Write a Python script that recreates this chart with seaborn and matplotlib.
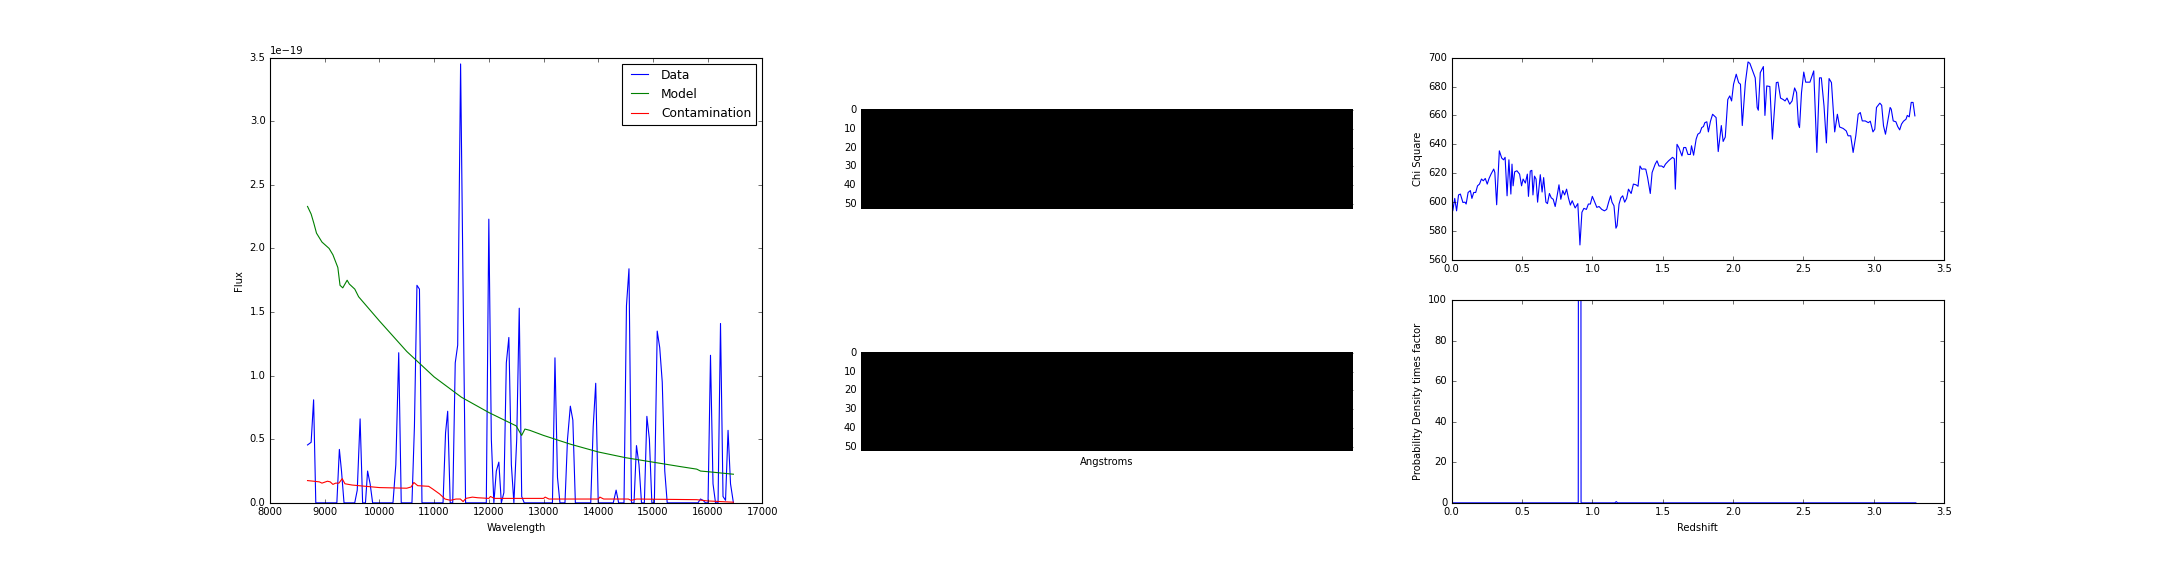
import numpy as np
import seaborn as sns
import matplotlib
matplotlib.use("Agg")
import matplotlib.pyplot as plt

# spectrum panel (flux in units of 1e-19)
wave_data = [8686, 8752, 8797, 8837, 9222, 9268, 9307, 9353, 9549, 9595, 9647, 9693,
             9745, 9784, 9830, 9876, 10248, 10300, 10353, 10399, 10595, 10640, 10686,
             10732, 10778, 11163, 11209, 11248, 11294, 11340, 11386, 11431, 11484, 11529,
             11575, 11954, 12000, 12046, 12092, 12137, 12183, 12229, 12275, 12320, 12366,
             12412, 12458, 12510, 12556, 12601, 12647, 13163, 13209, 13255, 13300, 13392,
             13438, 13490, 13536, 13582, 13863, 13908, 13954, 14000, 14275, 14327, 14373,
             14471, 14516, 14562, 14608, 14654, 14699, 14745, 14791, 14843, 14889, 14935,
             14980, 15026, 15078, 15124, 15170, 15216, 15261, 15823, 15869, 15915, 15961,
             16007, 16052, 16098, 16144, 16190, 16235, 16281, 16327, 16373, 16418, 16471]
flux_data = [0.455, 0.476, 0.81, 0, 0, 0.42, 0.25, 0, 0, 0.1, 0.66, 0,
             0, 0.25, 0.15, 0, 0, 0.3, 1.18, 0, 0, 0.6, 1.71,
             1.68, 0, 0, 0.55, 0.72, 0, 0, 1.1, 1.24, 3.45, 1.7,
             0, 0, 2.23, 0.5, 0, 0.25, 0.32, 0, 0.08, 1.1, 1.3,
             0.3, 0, 0.5, 1.53, 0.05, 0, 0, 1.14, 0.2, 0, 0,
             0.5, 0.76, 0.65, 0, 0, 0.6, 0.94, 0, 0, 0.1, 0,
             0, 1.55, 1.84, 0, 0, 0.45, 0.3, 0, 0, 0.68, 0.5,
             0, 0, 1.35, 1.22, 0.95, 0.25, 0, 0, 0.03, 0.02, 0,
             0, 1.16, 0.15, 0, 0, 1.41, 0.05, 0.02, 0.57, 0.15, 0]

wave_model = [8686, 8752, 8800, 8850, 8950, 9080, 9150, 9240, 9280, 9330, 9410, 9450,
              9550, 9620, 9700, 9800, 9900, 10000, 10500, 11000, 11500, 12000, 12500,
              12600, 12660, 12750, 13000, 13500, 14000, 14500, 15000, 15500, 15800,
              15870, 16000, 16471]
flux_model = [2.33, 2.27, 2.20, 2.12, 2.05, 2.00, 1.95, 1.85, 1.71, 1.69, 1.75, 1.72,
              1.68, 1.62, 1.58, 1.53, 1.48, 1.43, 1.19, 0.99, 0.83, 0.71, 0.605,
              0.53, 0.58, 0.57, 0.53, 0.46, 0.40, 0.355, 0.32, 0.285, 0.265,
              0.25, 0.245, 0.225]

wave_cont = [8686, 8800, 8900, 8950, 9050, 9100, 9150, 9200, 9260, 9320, 9370, 9500,
             10000, 10500, 10580, 10630, 10700, 10900, 10970, 11100, 11200, 11300, 11400,
             11480, 11530, 11580, 11700, 11800, 12000, 12030, 12100, 13000, 13030, 13100,
             14000, 14030, 14100, 14550, 14600, 14700, 15800, 16000, 16471]
flux_cont = [0.175, 0.17, 0.165, 0.155, 0.17, 0.165, 0.145, 0.155, 0.155, 0.19, 0.15, 0.14,
             0.12, 0.115, 0.125, 0.16, 0.135, 0.13, 0.11, 0.07, 0.03, 0.02, 0.03,
             0.03, 0.01, 0.035, 0.045, 0.04, 0.035, 0.05, 0.035, 0.035, 0.045, 0.03,
             0.03, 0.045, 0.03, 0.03, 0.02, 0.03, 0.025, 0.015, 0.005]

# chi square vs redshift
z_chi = [0.0, 0.008, 0.022, 0.035, 0.049, 0.062, 0.08, 0.095, 0.103, 0.117, 0.133, 0.144,
         0.157, 0.171, 0.184, 0.198, 0.212, 0.225, 0.239, 0.253, 0.266, 0.28, 0.299, 0.307,
         0.32, 0.339, 0.356, 0.369, 0.38, 0.394, 0.407, 0.421, 0.429, 0.437, 0.448, 0.464,
         0.483, 0.497, 0.508, 0.524, 0.538, 0.546, 0.559, 0.57, 0.578, 0.589, 0.6, 0.611,
         0.63, 0.643, 0.654, 0.67, 0.681, 0.695, 0.708, 0.722, 0.736, 0.749, 0.763, 0.776,
         0.79, 0.803, 0.817, 0.83, 0.844, 0.857, 0.878, 0.897, 0.912, 0.926, 0.94, 0.958,
         0.972, 0.986, 1.0, 1.013, 1.032, 1.048, 1.067, 1.086, 1.102, 1.116, 1.13, 1.14,
         1.154, 1.168, 1.176, 1.19, 1.203, 1.216, 1.23, 1.244, 1.257, 1.276, 1.292, 1.311,
         1.325, 1.339, 1.352, 1.366, 1.38, 1.393, 1.412, 1.425, 1.447, 1.46, 1.474, 1.493,
         1.507, 1.52, 1.542, 1.556, 1.57, 1.583, 1.59, 1.602, 1.615, 1.637, 1.65, 1.664,
         1.68, 1.697, 1.705, 1.72, 1.738, 1.75, 1.765, 1.778, 1.79, 1.8, 1.814, 1.825,
         1.84, 1.855, 1.88, 1.895, 1.917, 1.93, 1.945, 1.963, 1.977, 1.99, 2.004, 2.023,
         2.04, 2.053, 2.066, 2.088, 2.107, 2.12, 2.14, 2.158, 2.172, 2.18, 2.194, 2.216,
         2.227, 2.24, 2.262, 2.28, 2.308, 2.32, 2.338, 2.357, 2.37, 2.384, 2.403, 2.42,
         2.438, 2.452, 2.465, 2.473, 2.487, 2.503, 2.517, 2.547, 2.574, 2.596, 2.615, 2.628,
         2.647, 2.664, 2.683, 2.7, 2.723, 2.742, 2.758, 2.783, 2.805, 2.818, 2.837, 2.854,
         2.873, 2.89, 2.905, 2.919, 2.94, 2.962, 2.976, 2.995, 3.008, 3.02, 3.044, 3.057,
         3.07, 3.084, 3.098, 3.117, 3.125, 3.139, 3.158, 3.171, 3.185, 3.198, 3.212, 3.23,
         3.239, 3.253, 3.267, 3.28, 3.293]
chi_sq = [598, 594, 602.6, 594, 605, 605.6, 599.8, 600, 598.7, 606.7, 608, 602.6,
          606.7, 606.7, 611.3, 612.5, 616, 614.8, 616.4, 612.5, 616.4, 619.4, 622.9, 620.5,
          598.2, 635.5, 630.5, 629.3, 631, 604.4, 629.3, 605.6, 626.3, 611.3, 621, 621.7,
          619.4, 611.3, 616, 613.2, 619.4, 604, 621.5, 622, 605, 618, 616, 600,
          619, 607, 617, 600, 599, 606, 603, 602, 597, 604, 612, 602,
          608, 605, 609, 603, 598, 601, 596, 599, 570.4, 593, 595.7, 595,
          598.7, 598.7, 604, 601, 596.4, 597, 595, 594, 595, 600, 604.4, 600,
          597.5, 582, 583.7, 598.7, 603, 604.4, 600, 602.6, 609, 606, 612.5, 612,
          611, 625, 622.8, 623, 622.8, 617, 606, 620.5, 626.3, 628.6, 625, 625,
          624, 626.3, 628.6, 629.8, 631, 630, 609, 640, 637.8, 632, 637.8, 637.8,
          633, 633, 639, 632.5, 643.6, 647, 648, 651.6, 652.3, 655, 655.6, 648.6,
          656, 660.8, 658.5, 635, 653, 642, 645, 671, 673.5, 670, 681.6, 688.5,
          682.7, 681.6, 653, 682.7, 697, 696, 690.8, 686, 665.5, 663.6, 689.6, 693.8,
          660, 680.4, 680, 643.6, 682.7, 683, 672, 671, 670, 672, 667.8, 670,
          679, 675.8, 654, 651.6, 675.8, 690, 683, 683, 690.8, 634.4, 686, 686,
          666.6, 641, 685.5, 682.7, 648.6, 660.8, 652, 651, 649.3, 645.9, 645.9, 634.4,
          645.9, 660.8, 662, 656.2, 656.2, 655, 656, 648.6, 650.5, 665.5, 668.5, 667,
          652.8, 647, 655, 665.5, 664.3, 656.2, 655.6, 652.3, 650, 654, 656, 657.4,
          660, 659, 669, 669, 659.7]

# probability density
z_prob = [0.0, 0.90, 0.91, 0.92, 1.16, 1.17, 1.18, 3.30]
prob = [0, 0, 1200, 0, 0, 0.6, 0, 0]

# 2D spectra (empty / black)
img_rows, img_cols = 53, 262

plt.style.use("classic")
plt.rcParams["font.size"] = 9
fig = plt.figure(figsize=(27, 7.2), dpi=80, facecolor="white")
gs = fig.add_gridspec(2, 3, left=0.125, right=0.9, bottom=0.127, top=0.9,
                      wspace=0.2, hspace=0.2)

# spectrum
ax1 = fig.add_subplot(gs[:, 0])
sns.lineplot(x=wave_data, y=np.array(flux_data) * 1e-19, color="b", label="Data",
             estimator=None, ax=ax1)
sns.lineplot(x=wave_model, y=np.array(flux_model) * 1e-19, color="g", label="Model",
             estimator=None, ax=ax1)
sns.lineplot(x=wave_cont, y=np.array(flux_cont) * 1e-19, color="r", label="Contamination",
             estimator=None, ax=ax1)
ax1.set_xlim(8000, 17000)
ax1.set_ylim(0, 3.5e-19)
ax1.set_xlabel("Wavelength")
ax1.set_ylabel("Flux")
ax1.legend(loc="upper right", fontsize=11, handlelength=2.0)

# 2D images
blank = np.zeros((img_rows, img_cols))
for i in range(2):
    axi = fig.add_subplot(gs[i, 1])
    sns.heatmap(blank, cmap="gray", vmin=0, vmax=1, cbar=False, square=True,
                xticklabels=False, ax=axi)
    axi.set_yticks(np.arange(0, 51, 10) + 0.5)
    axi.set_yticklabels([str(v) for v in range(0, 51, 10)], rotation=0)
    axi.set_xticks([])
    if i == 1:
        axi.set_xlabel("Angstroms")

# chi square
ax3 = fig.add_subplot(gs[0, 2])
sns.lineplot(x=z_chi, y=chi_sq, color="b", estimator=None, ax=ax3)
ax3.set_xlim(0, 3.5)
ax3.set_ylim(560, 700)
ax3.set_ylabel("Chi Square")

# probability
ax4 = fig.add_subplot(gs[1, 2])
sns.lineplot(x=z_prob, y=prob, color="b", estimator=None, ax=ax4)
ax4.set_xlim(0, 3.5)
ax4.set_ylim(0, 100)
ax4.set_xlabel("Redshift")
ax4.set_ylabel("Probability Density times factor")

fig.savefig("out.png", dpi=80, facecolor="white")
